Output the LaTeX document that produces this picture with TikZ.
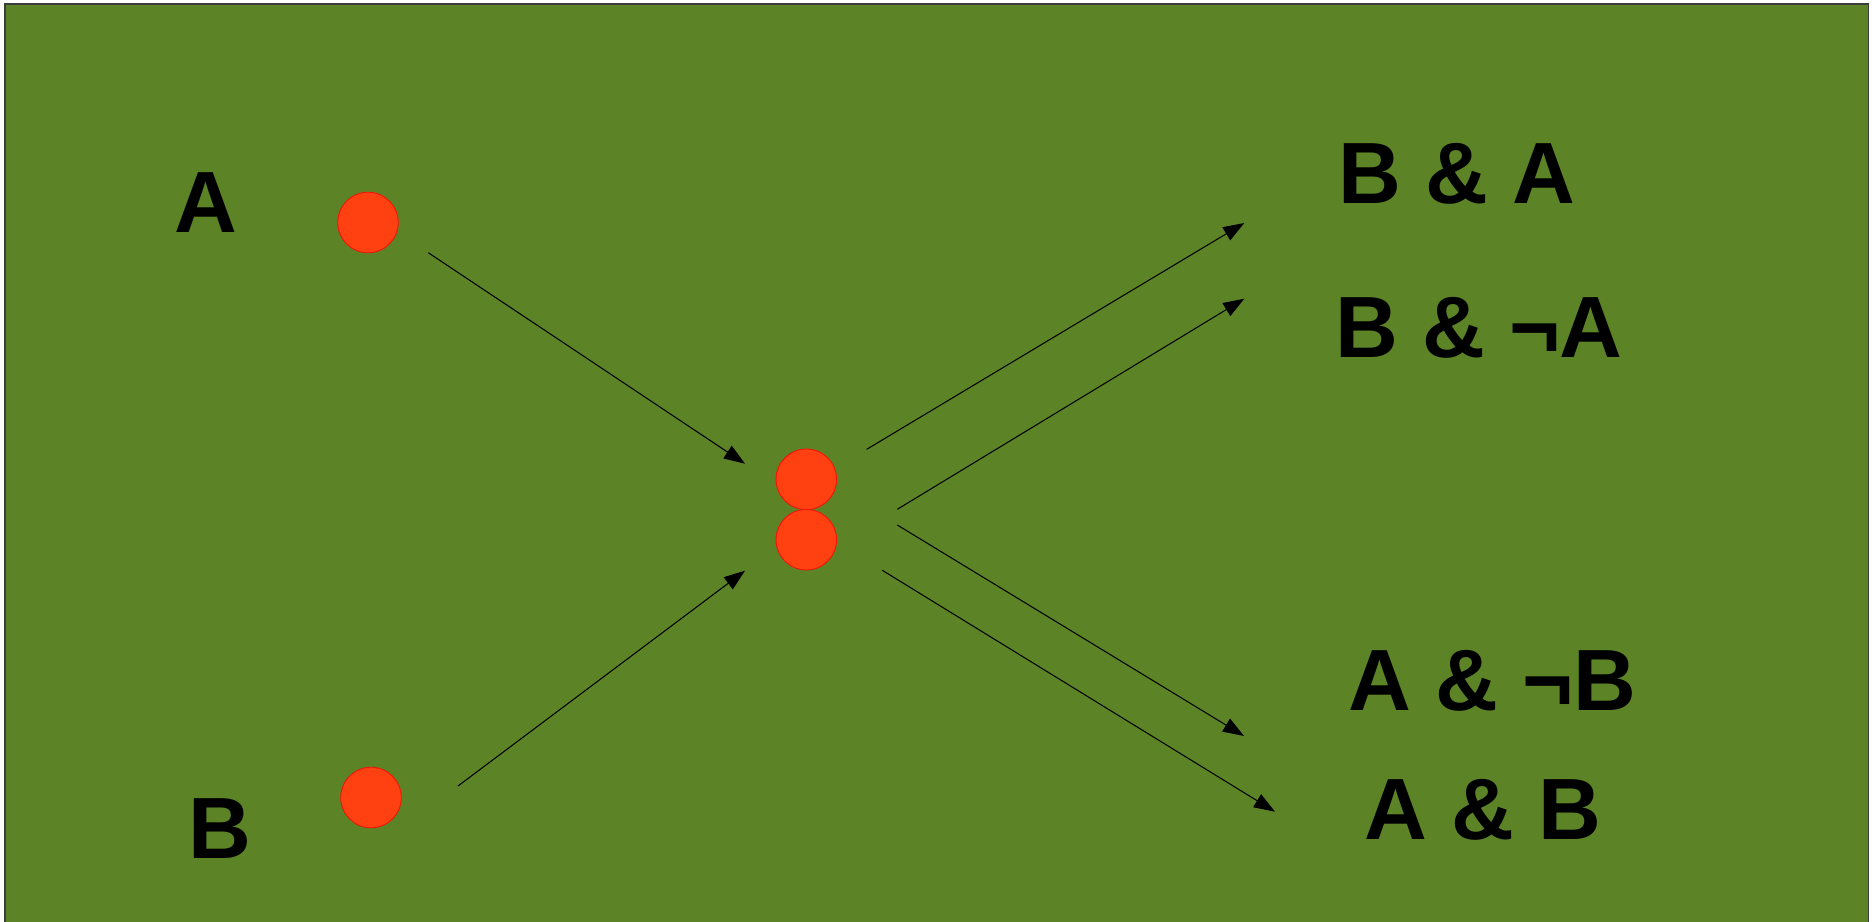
\documentclass[tikz,border=0pt]{standalone}
\usepackage{fontspec}
\setmainfont{Liberation Sans}
\usetikzlibrary{arrows.meta}
\definecolor{bggreen}{RGB}{92,132,39}
\definecolor{dotfill}{RGB}{255,64,16}
\definecolor{dotline}{RGB}{240,20,10}
\definecolor{frameline}{RGB}{60,60,60}
\tikzset{
  dot/.style={circle,fill=dotfill,draw=dotline,line width=0.5pt,minimum size=1.212cm,inner sep=0pt},
  lbl/.style={anchor=base,inner sep=0pt,font=\fontsize{49.5}{59}\selectfont\bfseries,text=black},
  conn/.style={draw=black,line width=0.6pt,-{Triangle[length=0.42cm,width=0.3cm]}}
}
\begin{document}
\begin{tikzpicture}[x=0.02cm,y=-0.02cm]
\useasboundingbox (0,0) rectangle (1875,922);
\fill[white] (0,0) rectangle (1875,922);
\filldraw[fill=bggreen,draw=frameline,line width=0.6pt] (5,4) rectangle (1868,940);
% labels
\node[lbl] (la) at (205.5,233) {A};
\node[lbl] (lb) at (220,858) {B};
\node[lbl] (lba) at (1456.7,203.3) {B \& A};
\node[lbl] (lbna) at (1479,357.6) {B \& ¬A};
\node[lbl] (lanb) at (1492.5,710.7) {A \& ¬B};
\node[lbl] (lab) at (1482.5,839) {A \& B};
% dots
\node[dot] (da) at (368,222.5) {};
\node[dot] (db) at (371,797.5) {};
\node[dot] (dc1) at (806.3,479.3) {};
\node[dot] (dc2) at (806.3,539.7) {};
% connector ends
\coordinate (s1) at (428.3,252.7);
\coordinate (t1) at (745,463.7);
\coordinate (s2) at (458,786);
\coordinate (t2) at (745,570.7);
\coordinate (s3) at (866.7,449.3);
\coordinate (t3) at (1244.3,223);
\coordinate (s4) at (897.3,509.3);
\coordinate (t4) at (1244.3,298.7);
\coordinate (s5) at (897.3,525);
\coordinate (t5) at (1244,736);
\coordinate (s6) at (882.3,570.3);
\coordinate (t6) at (1275,811.7);
\draw[conn] (s1) -- (t1);
\draw[conn] (s2) -- (t2);
\draw[conn] (s3) -- (t3);
\draw[conn] (s4) -- (t4);
\draw[conn] (s5) -- (t5);
\draw[conn] (s6) -- (t6);
\end{tikzpicture}
\end{document}
